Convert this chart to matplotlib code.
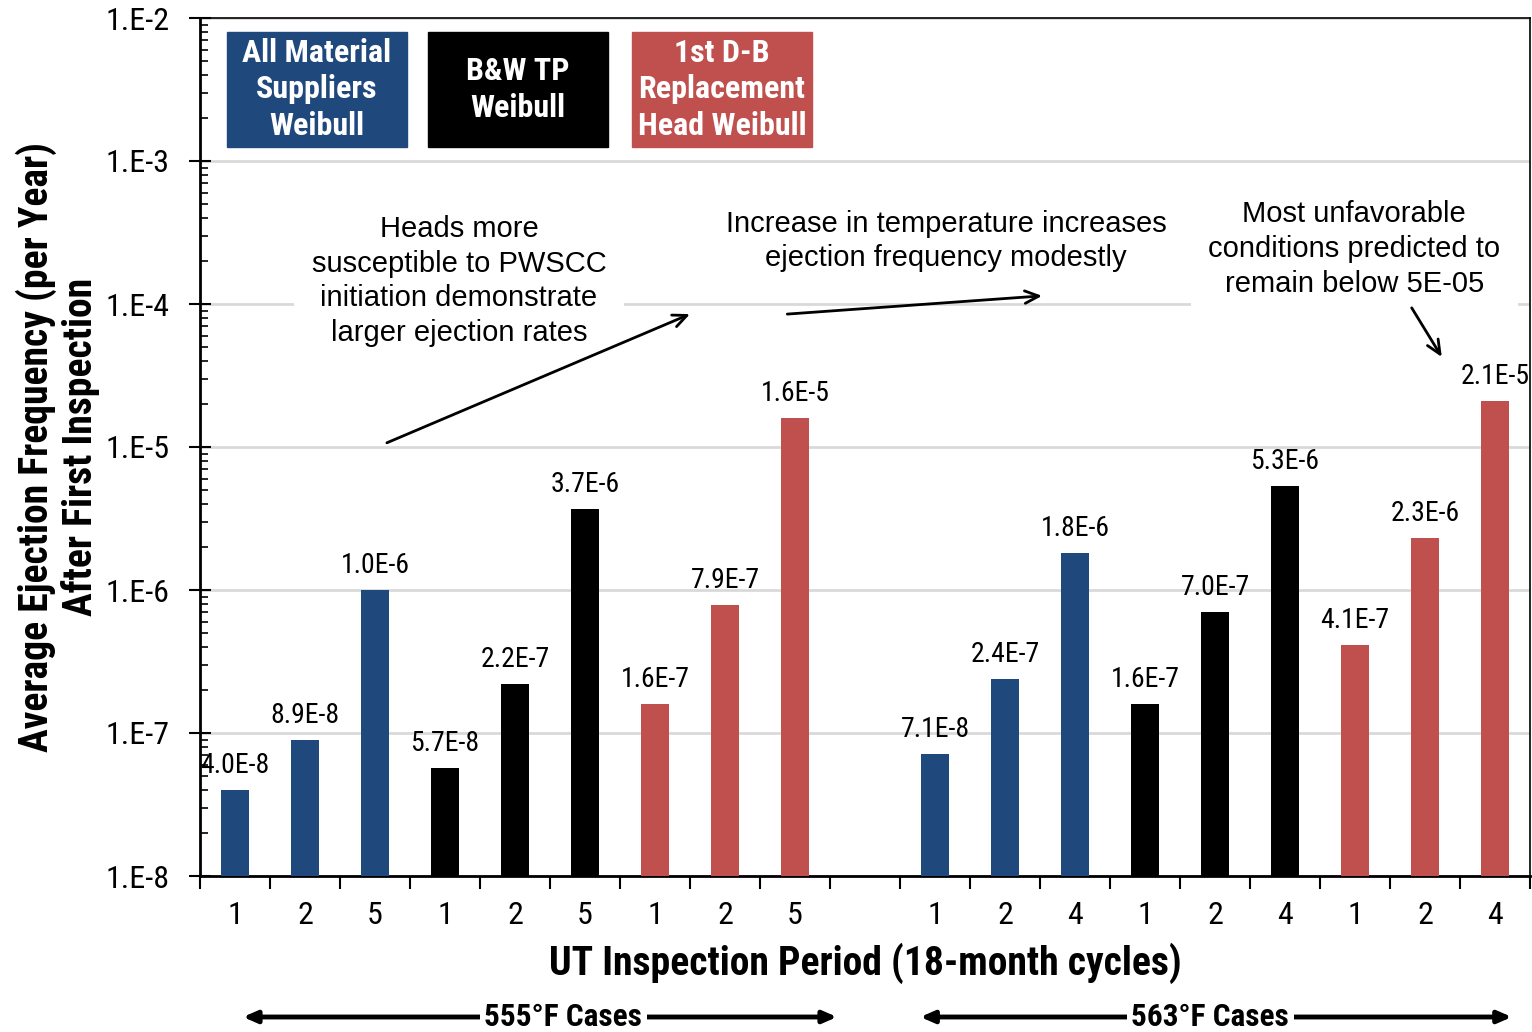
"""Average ejection frequency after first inspection, 555F vs 563F cases."""

import matplotlib

matplotlib.use("Agg")
import matplotlib.pyplot as plt  # noqa: E402
import matplotlib.font_manager as fm  # noqa: E402
import matplotlib.transforms as mtransforms  # noqa: E402
from matplotlib.patches import Rectangle  # noqa: E402
from matplotlib.ticker import FixedLocator, FuncFormatter, NullFormatter  # noqa: E402
import numpy as np  # noqa: E402

# the original uses a narrow face; use one if installed, else shrink Liberation Sans
installed = {f.name for f in fm.fontManager.ttflist}
narrow_found = [n for n in ("Liberation Sans Narrow", "Arial Narrow", "Roboto Condensed",
                            "Open Sans Condensed") if n in installed]
if narrow_found:
    NARROW = [narrow_found[0], "DejaVu Sans"]
    SQUEEZE = 1.0
else:
    NARROW = ["Liberation Sans", "DejaVu Sans"]
    SQUEEZE = 0.8
REGULAR = ["Liberation Sans", "DejaVu Sans"]

BLUE = "#1F497D"
BLACK = "#000000"
RED = "#C0504D"

# data (slot 9 is the gap between the two temperature groups)
periods_555 = ["1", "2", "5", "1", "2", "5", "1", "2", "5"]
periods_563 = ["1", "2", "4", "1", "2", "4", "1", "2", "4"]
freq_555 = [4.0e-8, 8.9e-8, 1.0e-6, 5.7e-8, 2.2e-7, 3.7e-6, 1.6e-7, 7.9e-7, 1.6e-5]
freq_563 = [7.1e-8, 2.4e-7, 1.8e-6, 1.6e-7, 7.0e-7, 5.3e-6, 4.1e-7, 2.3e-6, 2.1e-5]
group_colors = [BLUE] * 3 + [BLACK] * 3 + [RED] * 3
labels_555 = ["4.0E-8", "8.9E-8", "1.0E-6", "5.7E-8", "2.2E-7", "3.7E-6",
              "1.6E-7", "7.9E-7", "1.6E-5"]
labels_563 = ["7.1E-8", "2.4E-7", "1.8E-6", "1.6E-7", "7.0E-7", "5.3E-6",
              "4.1E-7", "2.3E-6", "2.1E-5"]
legend_names = ["All Material\nSuppliers\nWeibull", "B&W TP\nWeibull",
                "1st D-B\nReplacement\nHead Weibull"]
legend_colors = [BLUE, BLACK, RED]

x_555 = np.arange(9)
x_563 = np.arange(10, 19)

fig = plt.figure(figsize=(15.32, 10.32), dpi=100)
ax = fig.add_axes([200 / 1532, 1 - 876 / 1032, 1330 / 1532, 858 / 1032])

for xs, vals, labs in ((x_555, freq_555, labels_555), (x_563, freq_563, labels_563)):
    ax.bar(xs, vals, width=0.4, color=group_colors, zorder=3)
    for x, v, lab in zip(xs, vals, labs):
        ax.annotate(lab, (x, v), xytext=(0, 8), textcoords="offset points",
                    ha="center", va="bottom", fontsize=20 * SQUEEZE, family=NARROW,
                    zorder=4)

ax.set_yscale("log")
ax.set_ylim(1e-8, 1e-2)
ax.set_xlim(-0.5, 18.5)

# y axis: decades with 1.E-n labels, minor ticks pointing inward
ax.yaxis.set_major_formatter(FuncFormatter(lambda v, _: f"1.E{int(round(np.log10(v)))}"))
ax.yaxis.set_minor_formatter(NullFormatter())
ax.tick_params(axis="y", which="major", direction="inout", length=16, width=1.5,
               labelsize=23 * SQUEEZE, pad=14)
ax.tick_params(axis="y", which="minor", direction="in", length=6, width=1.2)
for lab in ax.get_yticklabels():
    lab.set_family(NARROW)

# x axis: tick marks at slot boundaries, labels at bar centres
ax.xaxis.set_major_locator(FixedLocator(np.arange(-0.5, 19, 1.0)))
ax.xaxis.set_major_formatter(NullFormatter())
ax.xaxis.set_minor_locator(FixedLocator(np.concatenate([x_555, x_563])))
ax.set_xticklabels(periods_555 + periods_563, minor=True)
ax.tick_params(axis="x", which="major", direction="out", length=9, width=1.5)
ax.tick_params(axis="x", which="minor", length=0, labelsize=23, pad=18)
for lab in ax.get_xticklabels(minor=True):
    lab.set_family(NARROW)

ax.grid(axis="y", which="major", color="#D9D9D9", lw=2, zorder=0)
ax.set_axisbelow(True)
for side in ("left", "bottom"):
    ax.spines[side].set_linewidth(2)
for side in ("top", "right"):
    ax.spines[side].set_linewidth(1.2)

ax.set_xlabel("UT Inspection Period (18-month cycles)", fontsize=28.5 * SQUEEZE,
              fontweight="bold", family=NARROW, va="center")
ax.xaxis.set_label_coords(0.5, -(963 - 876) / 858)
ax.set_ylabel("Average Ejection Frequency (per Year)\nAfter First Inspection",
              fontsize=28.5 * SQUEEZE, fontweight="bold", family=NARROW, va="center",
              linespacing=1.12 / SQUEEZE ** 1.5)
ax.yaxis.set_label_coords(-0.107, 0.5)

# legend boxes
box_left = [0.0203, 0.1714, 0.3248]
for x0, name, col in zip(box_left, legend_names, legend_colors):
    ax.add_patch(Rectangle((x0, 0.8497), 0.1353, 0.134, transform=ax.transAxes,
                           color=col, zorder=5, clip_on=False))
    ax.text(x0 + 0.1353 / 2, 0.8497 + 0.067, name, transform=ax.transAxes,
            ha="center", va="center", color="white", fontsize=23 * SQUEEZE,
            fontweight="bold", family=NARROW, linespacing=1.26 / SQUEEZE ** 1.2,
            zorder=6)

# annotations
note_kw = dict(ha="center", va="center", fontsize=21, family=REGULAR,
               linespacing=1.31, zorder=6,
               bbox=dict(boxstyle="square,pad=0.6", fc="white", ec="none"))
ax.text(3.2, 1.45e-4, "Heads more\nsusceptible to PWSCC\ninitiation demonstrate\n"
        "larger ejection rates", **note_kw)
ax.text(10.16, 2.76e-4, "Increase in temperature increases\nejection frequency modestly",
        **dict(note_kw, bbox=dict(boxstyle="square,pad=0.3", fc="white", ec="none")))
ax.text(15.99, 2.43e-4, "Most unfavorable\nconditions predicted to\nremain below 5E-05",
        **note_kw)
arrow_kw = dict(arrowstyle="->,head_length=1.0,head_width=0.45", lw=2, color="black",
                shrinkA=0, shrinkB=0)
ax.annotate("", xy=(6.5, 8.5e-5), xytext=(2.17, 1.07e-5), arrowprops=arrow_kw, zorder=7)
ax.annotate("", xy=(11.53, 1.14e-4), xytext=(7.89, 8.5e-5), arrowprops=arrow_kw, zorder=7)
ax.annotate("", xy=(17.24, 4.26e-5), xytext=(16.81, 9.4e-5), arrowprops=arrow_kw, zorder=7)

# temperature group brackets under the x label
trans = mtransforms.blended_transform_factory(ax.transData, fig.transFigure)
y_br = (1032 - 1017) / 1032
for x1, x2, xc, txt in ((0.114, 8.6, 4.69, "555°F Cases"),
                        (9.79, 18.24, 13.93, "563°F Cases")):
    ax.annotate("", xy=(x2, y_br), xycoords=trans, xytext=(x1, y_br), textcoords=trans,
                arrowprops=dict(arrowstyle="<|-|>,head_length=0.8,head_width=0.35",
                                lw=3.5, color="black", shrinkA=0, shrinkB=0),
                annotation_clip=False)
    ax.text(xc, y_br, txt, transform=trans, ha="center", va="center",
            fontsize=22.5 * SQUEEZE, fontweight="bold", family=NARROW,
            bbox=dict(boxstyle="square,pad=0.15", fc="white", ec="none"))

fig.savefig("out.png", dpi=100)
